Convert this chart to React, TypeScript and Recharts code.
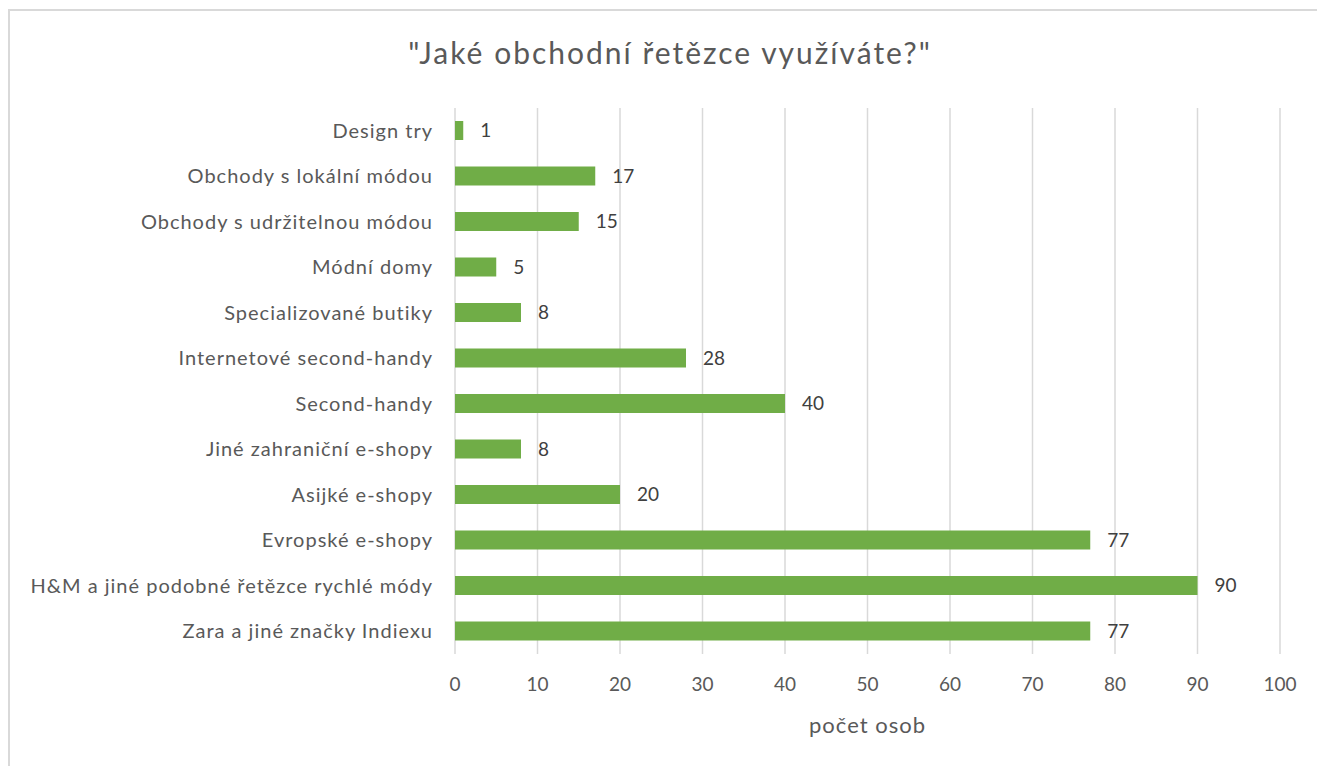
import React from "react";
import { BarChart, Bar, XAxis, YAxis, CartesianGrid, LabelList } from "recharts";

const categories = [
  "Design try",
  "Obchody s lokální módou",
  "Obchody s udržitelnou módou",
  "Módní domy",
  "Specializované butiky",
  "Internetové second-handy",
  "Second-handy",
  "Jiné zahraniční e-shopy",
  "Asijké e-shopy",
  "Evropské e-shopy",
  "H&M a jiné podobné řetězce rychlé módy",
  "Zara a jiné značky Indiexu",
];
const counts = [1, 17, 15, 5, 8, 28, 40, 8, 20, 77, 90, 77];
const xTicks = [0, 10, 20, 30, 40, 50, 60, 70, 80, 90, 100];

const title = '"Jaké obchodní řetězce využíváte?"';
const xLabel = "počet osob";

const data = categories.map((name, i) => ({ name, value: counts[i] }));

const FONT = "Lato, 'Open Sans', sans-serif";

export default function App() {
  return (
    <div style={{ position: "fixed", inset: 0, overflow: "hidden", background: "#fff", fontFamily: FONT }}>
      {/* chart frame, runs off the right and bottom edge like the source */}
      <div
        style={{
          position: "absolute",
          left: 8,
          top: 9,
          width: 1330,
          height: 780,
          border: "2px solid #d9d9d9",
          boxSizing: "border-box",
        }}
      />
      <div
        style={{
          position: "absolute",
          top: 32,
          left: 0,
          width: 1340,
          textAlign: "center",
          fontSize: 30,
          letterSpacing: 2,
          color: "#595959",
          lineHeight: "40px",
        }}
      >
        {title}
      </div>
      <div style={{ position: "absolute", left: 0, top: 0 }}>
        <BarChart
          width={1317}
          height={766}
          layout="vertical"
          data={data}
          margin={{ top: 108, right: 37, bottom: 0, left: 0 }}
        >
          <CartesianGrid horizontal={false} stroke="#d9d9d9" strokeWidth={1.5} />
          <XAxis
            type="number"
            domain={[0, 100]}
            ticks={xTicks}
            axisLine={false}
            tickLine={false}
            tickSize={0}
            tickMargin={24}
            height={112}
            tick={{ fill: "#595959", fontSize: 19, fontFamily: FONT }}
            label={{
              value: xLabel,
              position: "insideTop",
              offset: 63,
              fill: "#595959",
              fontSize: 22,
              fontFamily: FONT,
              style: { letterSpacing: 1 },
            }}
          />
          <YAxis
            type="category"
            dataKey="name"
            width={455}
            axisLine={false}
            tickLine={false}
            tickSize={0}
            tickMargin={22}
            interval={0}
            tick={{ fill: "#595959", fontSize: 20, fontFamily: FONT, letterSpacing: 1 }}
          />
          <Bar dataKey="value" fill="#70ad47" barSize={19} isAnimationActive={false}>
            <LabelList
              dataKey="value"
              position="right"
              offset={17}
              fill="#404040"
              fontSize={19}
              fontFamily={FONT}
            />
          </Bar>
        </BarChart>
      </div>
    </div>
  );
}
